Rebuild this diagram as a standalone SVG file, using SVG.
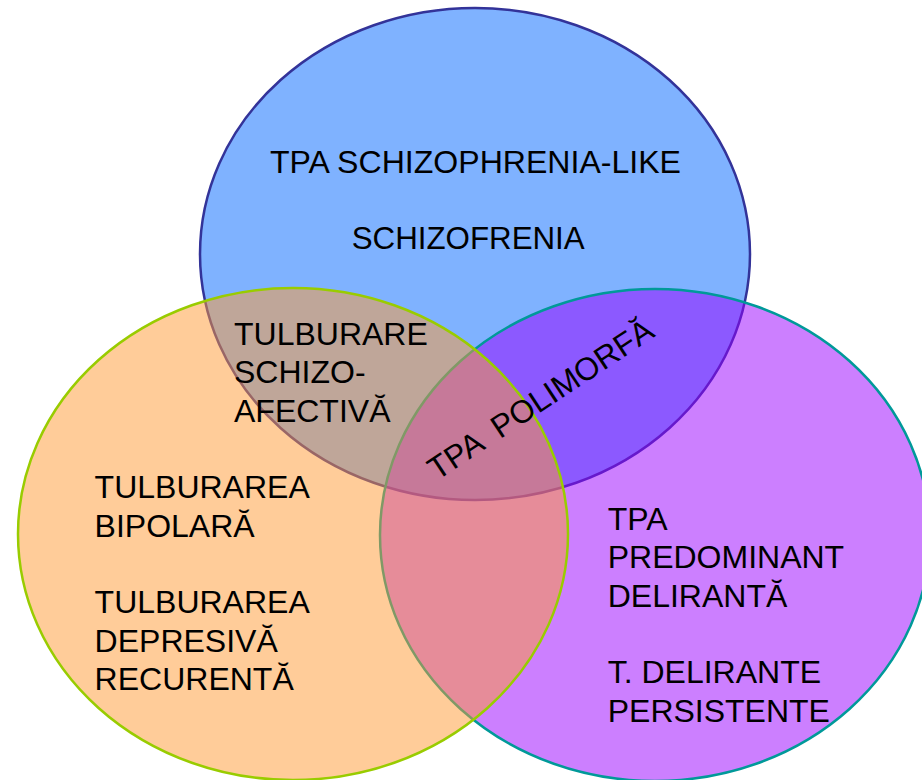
<svg xmlns="http://www.w3.org/2000/svg" width="922" height="780" viewBox="0 0 922 780">
<style>
.lbl{font-family:"Liberation Sans",Arial,sans-serif;font-size:32px;fill:#000}
.c{stroke-width:2.5}
</style>
<rect width="922" height="780" fill="#ffffff"/>
<g id="top">
<ellipse class="c" cx="475" cy="254" rx="275" ry="246" fill="#0066ff" fill-opacity="0.5" stroke="#333399"/>
</g>
<g id="right">
<ellipse class="c" cx="655" cy="535" rx="275" ry="246" fill="#9900ff" fill-opacity="0.5" stroke="#009999"/>
</g>
<g id="left">
<ellipse class="c" cx="293" cy="534" rx="275" ry="246" fill="#ff9933" fill-opacity="0.5" stroke="#99cc00"/>
</g>
<g id="labels" class="lbl">
<text x="270" y="172.7" textLength="411" lengthAdjust="spacingAndGlyphs">TPA SCHIZOPHRENIA-LIKE</text>
<text x="351.7" y="249.3" textLength="233" lengthAdjust="spacingAndGlyphs">SCHIZOFRENIA</text>
<text x="234" y="345">TULBURARE</text>
<text x="234" y="383.3">SCHIZO-</text>
<text x="234" y="421.7">AFECTIVĂ</text>
<text x="94.6" y="498.3">TULBURAREA</text>
<text x="94.6" y="536.6">BIPOLARĂ</text>
<text x="94.6" y="613.3">TULBURAREA</text>
<text x="94.6" y="651.7">DEPRESIVĂ</text>
<text x="94.6" y="690">RECURENTĂ</text>
<text x="607.7" y="530">TPA</text>
<text x="607.7" y="568.3">PREDOMINANT</text>
<text x="607.7" y="606.6">DELIRANTĂ</text>
<text x="607.7" y="683.3">T. DELIRANTE</text>
<text x="607.7" y="721.7">PERSISTENTE</text>
<text x="0" y="0" transform="translate(437,481) rotate(-33.5)" xml:space="preserve" textLength="263" lengthAdjust="spacingAndGlyphs">TPA  POLIMORFĂ</text>
</g>
</svg>
